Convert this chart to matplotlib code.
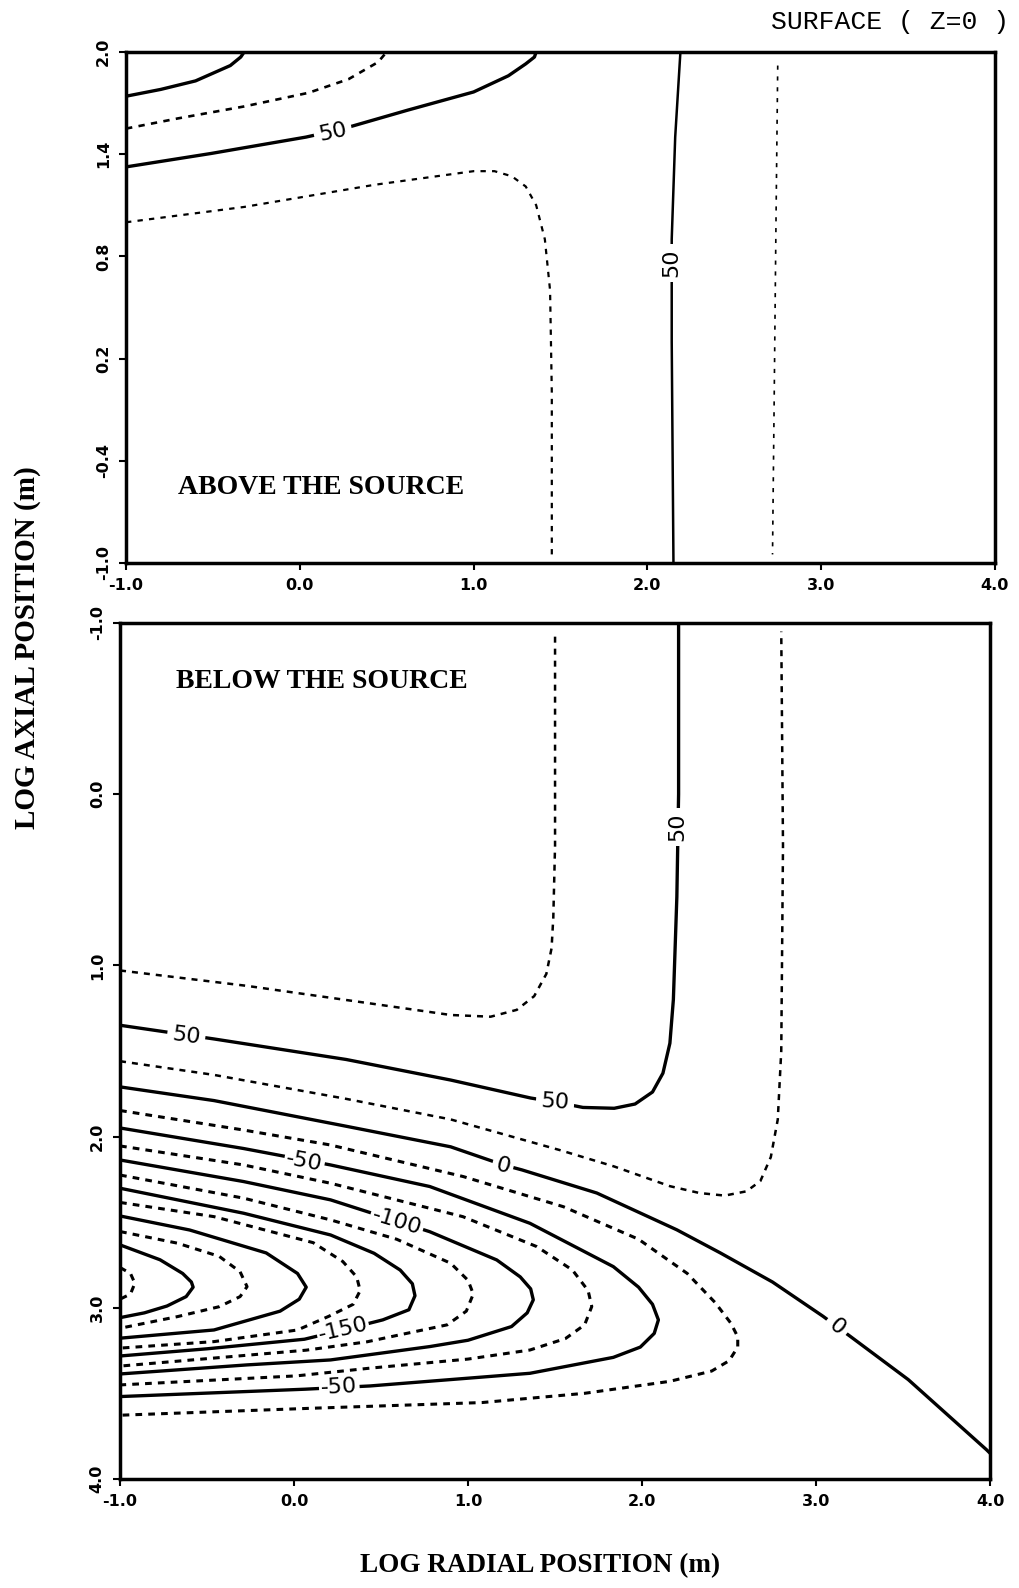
import matplotlib
matplotlib.use("Agg")
import matplotlib.pyplot as plt

# ---- axes / ticks ----
x_ticks = [-1.0, 0.0, 1.0, 2.0, 3.0, 4.0]
x_tick_labels = ["-1.0", "0.0", "1.0", "2.0", "3.0", "4.0"]
top_y_ticks = [-1.0, -0.4, 0.2, 0.8, 1.4, 2.0]
top_y_tick_labels = ["-1.0", "-0.4", "0.2", "0.8", "1.4", "2.0"]
bot_y_ticks = [-1.0, 0.0, 1.0, 2.0, 3.0, 4.0]
bot_y_tick_labels = ["-1.0", "0.0", "1.0", "2.0", "3.0", "4.0"]

# ---- top panel contours ----
ta_x = [-1.0, -0.8, -0.6, -0.4, -0.34, -0.32]
ta_y = [1.74, 1.78, 1.83, 1.92, 1.97, 2.0]
tb_x = [-1.0, -0.70, -0.32, 0.05, 0.28, 0.45, 0.50]
tb_y = [1.55, 1.61, 1.68, 1.76, 1.84, 1.94, 2.0]
tc_x = [-1.0, -0.51, 0.035, 0.19, 0.30, 0.62, 1.0, 1.20, 1.30, 1.35, 1.36]
tc_y = [1.325, 1.404, 1.50, 1.535, 1.564, 1.658, 1.765, 1.86, 1.93, 1.97, 2.0]
td_x = [-1.0, -0.32, 0.43, 1.0, 1.12, 1.22, 1.30, 1.36, 1.41, 1.44, 1.45, 1.45]
td_y = [1.0, 1.09, 1.22, 1.30, 1.30, 1.27, 1.21, 1.10, 0.90, 0.60, 0.0, -0.95]
te_x = [2.19, 2.16, 2.14, 2.14, 2.15]
te_y = [2.0, 1.5, 0.9, 0.3, -1.0]
tf_x = [2.75, 2.74, 2.73, 2.72]
tf_y = [1.92, 1.0, 0.0, -0.95]

# ---- bottom panel contours ----
d1_x = [-1.0, -0.27, 0.49, 0.90, 1.13, 1.28, 1.38, 1.45, 1.48, 1.49, 1.50, 1.50]
d1_y = [1.03, 1.12, 1.23, 1.29, 1.30, 1.26, 1.18, 1.05, 0.90, 0.72, 0.3, -0.95]
s50_x = [-1.0, -0.46, 0.30, 0.90, 1.36, 1.51, 1.66, 1.84, 1.96, 2.06, 2.12, 2.16, 2.18, 2.20, 2.21, 2.21]
s50_y = [1.35, 1.43, 1.55, 1.67, 1.775, 1.80, 1.83, 1.835, 1.81, 1.74, 1.63, 1.455, 1.2, 0.6, 0.0, -1.0]
c25_x = [-1.0, -0.46, 0.30, 0.90, 1.53, 1.84, 2.16, 2.33, 2.475, 2.60, 2.68, 2.74, 2.78, 2.80, 2.81, 2.80]
c25_y = [1.56, 1.64, 1.78, 1.90, 2.08, 2.175, 2.29, 2.33, 2.345, 2.32, 2.26, 2.12, 1.90, 1.5, 0.3, -0.95]
c0_x = [-1.0, -0.46, 0.30, 0.90, 1.2, 1.31, 1.74, 2.2, 2.45, 2.75, 3.04, 3.2, 3.53, 3.98, 4.0]
c0_y = [1.71, 1.79, 1.94, 2.06, 2.165, 2.195, 2.33, 2.545, 2.68, 2.85, 3.05, 3.17, 3.42, 3.83, 3.85]
cm25_x = [-1.0, -0.29, 0.207, 0.973, 1.548, 1.98, 2.26, 2.42, 2.51, 2.55, 2.55, 2.50, 2.40, 2.16, 1.67, 1.08, 0.11, -1.0]
cm25_y = [1.848, 1.962, 2.049, 2.234, 2.41, 2.60, 2.80, 2.97, 3.09, 3.17, 3.23, 3.31, 3.37, 3.43, 3.50, 3.554, 3.587, 3.628]
cm50_x = [-1.0, -0.29, 0.21, 0.78, 1.356, 1.835, 1.98, 2.06, 2.094, 2.07, 1.99, 1.835, 1.356, 0.437, 0.063, -1.0]
cm50_y = [1.95, 2.07, 2.166, 2.292, 2.507, 2.76, 2.88, 2.98, 3.071, 3.15, 3.23, 3.29, 3.383, 3.457, 3.476, 3.519]
cm75_x = [-1.0, -0.29, 0.21, 0.97, 1.395, 1.60, 1.69, 1.711, 1.67, 1.56, 1.356, 1.0, 0.437, 0.015, -1.0]
cm75_y = [2.055, 2.166, 2.273, 2.468, 2.643, 2.78, 2.90, 2.993, 3.10, 3.18, 3.247, 3.30, 3.353, 3.398, 3.451]
cm100_x = [-1.0, -0.29, 0.21, 0.78, 1.165, 1.30, 1.36, 1.375, 1.34, 1.25, 1.0, 0.78, 0.21, -0.27, -1.0]
cm100_y = [2.137, 2.263, 2.37, 2.556, 2.721, 2.82, 2.89, 2.954, 3.03, 3.11, 3.19, 3.227, 3.305, 3.334, 3.387]
cm125_x = [-1.0, -0.29, 0.21, 0.59, 0.90, 1.00, 1.03, 0.99, 0.88, 0.60, 0.42, 0.07, -1.0]
cm125_y = [2.225, 2.36, 2.487, 2.60, 2.74, 2.84, 2.92, 3.02, 3.10, 3.16, 3.199, 3.248, 3.341]
cm150_x = [-1.0, -0.29, 0.21, 0.46, 0.61, 0.68, 0.695, 0.66, 0.51, 0.28, 0.06, -0.5, -1.0]
cm150_y = [2.302, 2.448, 2.575, 2.682, 2.78, 2.86, 2.93, 3.012, 3.071, 3.13, 3.184, 3.24, 3.282]
cm175_x = [-1.0, -0.46, 0.11, 0.28, 0.36, 0.38, 0.34, 0.20, 0.02, -0.46, -1.0]
cm175_y = [2.385, 2.468, 2.62, 2.73, 2.82, 2.90, 2.98, 3.05, 3.13, 3.198, 3.236]
cm200_x = [-1.0, -0.60, -0.16, 0.02, 0.07, 0.03, -0.08, -0.46, -1.0]
cm200_y = [2.464, 2.546, 2.68, 2.80, 2.88, 2.95, 3.02, 3.13, 3.178]
cm225_x = [-1.0, -0.67, -0.43, -0.31, -0.27, -0.31, -0.43, -0.67, -1.0]
cm225_y = [2.555, 2.623, 2.70, 2.79, 2.877, 2.935, 2.994, 3.052, 3.12]
cm250_x = [-1.0, -0.77, -0.64, -0.59, -0.58, -0.62, -0.73, -0.86, -1.0]
cm250_y = [2.633, 2.72, 2.80, 2.85, 2.88, 2.935, 2.99, 3.03, 3.058]
cm275_x = [-1.0, -0.94, -0.915, -0.94, -1.0]
cm275_y = [2.765, 2.80, 2.857, 2.92, 2.95]

solid_kw = dict(color="black", lw=2.4, solid_capstyle="round", solid_joinstyle="round", zorder=2)
dash_kw = dict(color="black", lw=2.2, linestyle=(0, (2.2, 2.0)), zorder=2)
thin_dot_kw = dict(color="black", lw=1.2, linestyle=(0, (2.5, 4.0)), zorder=2)


def clabel(ax, x, y, s, rot, pad=2.5):
    ax.text(x, y, s, rotation=rot, ha="center", va="center", fontsize=16,
            rotation_mode="anchor", zorder=5,
            bbox=dict(facecolor="white", edgecolor="none", pad=pad))


def style_axes(ax, yt, ytl):
    ax.set_xlim(-1, 4)
    ax.set_xticks(x_ticks)
    ax.set_xticklabels(x_tick_labels, fontsize=11.5, fontweight="bold")
    ax.set_yticks(yt)
    ax.set_yticklabels(ytl, fontsize=11.5, fontweight="bold", rotation=90, va="center")
    ax.tick_params(direction="out", length=5, width=1.5, pad=6)
    for sp in ax.spines.values():
        sp.set_linewidth(2.5)
        sp.set_zorder(6)


fig = plt.figure(figsize=(10.19, 15.88), dpi=100)

# top panel: above the source
ax1 = fig.add_axes([0.1237, 0.6455, 0.8527, 0.3218])
ax1.plot(ta_x, ta_y, **solid_kw)
ax1.plot(tb_x, tb_y, color="black", lw=1.9, linestyle=(0, (2.4, 2.4)), zorder=2)
ax1.plot(tc_x, tc_y, **solid_kw)
ax1.plot(td_x, td_y, color="black", lw=1.6, linestyle=(0, (2.4, 2.8)), zorder=2)
ax1.plot(te_x, te_y, color="black", lw=1.8, zorder=2)
ax1.plot(tf_x, tf_y, **thin_dot_kw)
clabel(ax1, 0.19, 1.53, "50", 12, pad=3.5)
clabel(ax1, 2.14, 0.76, "50", 90, pad=3.5)
ax1.set_ylim(-1, 2)
style_axes(ax1, top_y_ticks, top_y_tick_labels)
ax1.text(0.12, -0.56, "ABOVE THE SOURCE", fontsize=20, fontweight="bold",
         family="Liberation Serif", ha="center", va="center")

# bottom panel: below the source
ax2 = fig.add_axes([0.1178, 0.0687, 0.8538, 0.5390])
ax2.plot(d1_x, d1_y, color="black", lw=1.8, linestyle=(0, (2.4, 2.4)), zorder=2)
ax2.plot(s50_x, s50_y, **solid_kw)
ax2.plot(c25_x, c25_y, color="black", lw=1.8, linestyle=(0, (2.4, 2.4)), zorder=2)
ax2.plot(c0_x, c0_y, **solid_kw)
for cx, cy, solid in [(cm25_x, cm25_y, False), (cm50_x, cm50_y, True),
                      (cm75_x, cm75_y, False), (cm100_x, cm100_y, True),
                      (cm125_x, cm125_y, False), (cm150_x, cm150_y, True),
                      (cm175_x, cm175_y, False), (cm200_x, cm200_y, True),
                      (cm225_x, cm225_y, False), (cm250_x, cm250_y, True),
                      (cm275_x, cm275_y, False)]:
    ax2.plot(cx, cy, **(solid_kw if solid else dash_kw))

clabel(ax2, -0.62, 1.415, "50", -8, pad=3.5)
clabel(ax2, 1.50, 1.80, "50", -4, pad=3.5)
clabel(ax2, 2.20, 0.19, "50", 90, pad=3.5)
clabel(ax2, 1.20, 2.17, "0", -15)
clabel(ax2, 3.12, 3.11, "0", -40, pad=3.5)
clabel(ax2, 0.06, 2.145, "-50", -11, pad=1.5)
clabel(ax2, 0.59, 2.50, "-100", -17, pad=1.5)
clabel(ax2, 0.28, 3.125, "-150", 13, pad=0.8)
clabel(ax2, 0.26, 3.465, "-50", 3, pad=1.5)

ax2.set_ylim(4, -1)
style_axes(ax2, bot_y_ticks, bot_y_tick_labels)
ax2.text(0.16, -0.66, "BELOW THE SOURCE", fontsize=20, fontweight="bold",
         family="Liberation Serif", ha="center", va="center")

fig.text(0.99, 0.986, "SURFACE ( Z=0 )", fontsize=19, family="Liberation Mono",
         ha="right", va="center")
fig.text(0.53, 0.014, "LOG RADIAL POSITION (m)", fontsize=19.5, fontweight="bold",
         family="Liberation Serif", ha="center", va="center")
fig.text(0.027, 0.592, "LOG AXIAL POSITION (m)", fontsize=21, fontweight="bold",
         family="Liberation Serif", ha="center", va="center", rotation=90)

fig.savefig("out.png", dpi=100)
